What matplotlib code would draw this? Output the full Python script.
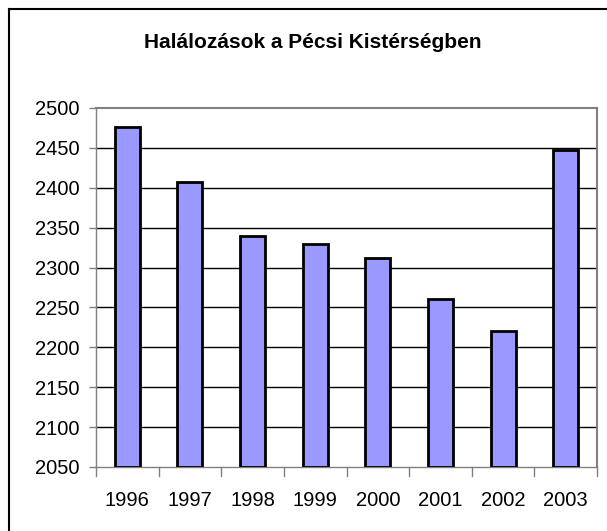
import matplotlib
matplotlib.use("Agg")
import matplotlib.pyplot as plt
from matplotlib.lines import Line2D

years = ["1996", "1997", "1998", "1999", "2000", "2001", "2002", "2003"]
deaths = [2476, 2407, 2339, 2330, 2312, 2261, 2220, 2447]
yticks = [2050, 2100, 2150, 2200, 2250, 2300, 2350, 2400, 2450, 2500]
title = "Halálozások a Pécsi Kistérségben"

plt.rcParams['font.family'] = ['Liberation Sans', 'DejaVu Sans']

W, H = 607, 531
fig = plt.figure(figsize=(W / 100, H / 100), dpi=100)
ax = fig.add_axes([96 / W, 1 - 467 / H, (597 - 96) / W, (467 - 108) / H])

x = list(range(len(years)))
ax.bar(x, [d - 2050 for d in deaths], bottom=2050, width=0.4,
       color="#9999FF", edgecolor="black", linewidth=2, zorder=3)

ax.set_xlim(-0.5, len(years) - 0.5)
ax.set_ylim(2050, 2500)
ax.set_yticks(yticks)
ax.set_yticklabels([str(v) for v in yticks], fontsize=14.5)
ax.set_xticks(x)
ax.set_xticklabels(years, fontsize=14.5)
ax.tick_params(axis='x', length=0, pad=17)
ax.tick_params(axis='y', length=5, width=1, color="#808080", pad=7)
for b in [i + 0.5 for i in range(-1, len(years))]:
    ax.plot([b, b], [0, -0.025], transform=ax.get_xaxis_transform(),
            color="#808080", lw=1, clip_on=False)

for v in yticks[1:-1]:
    ax.axhline(v, color="black", lw=1, zorder=1)

for side in ["top", "right"]:
    ax.spines[side].set_color("#808080")
    ax.spines[side].set_linewidth(1.5)
for side in ["left", "bottom"]:
    ax.spines[side].set_color("#808080")
    ax.spines[side].set_linewidth(1)

fig.text(313 / W, 1 - 42 / H, title, ha="center", va="center",
         fontsize=15, fontweight="bold")

# outer chart border (top and left visible)
fig.add_artist(Line2D([9 / W, 9 / W], [0, 1 - 9 / H], color="black", lw=1.5,
                      transform=fig.transFigure))
fig.add_artist(Line2D([9 / W, 1], [1 - 9 / H, 1 - 9 / H], color="black", lw=1.5,
                      transform=fig.transFigure))

fig.savefig("out.png", dpi=100)
